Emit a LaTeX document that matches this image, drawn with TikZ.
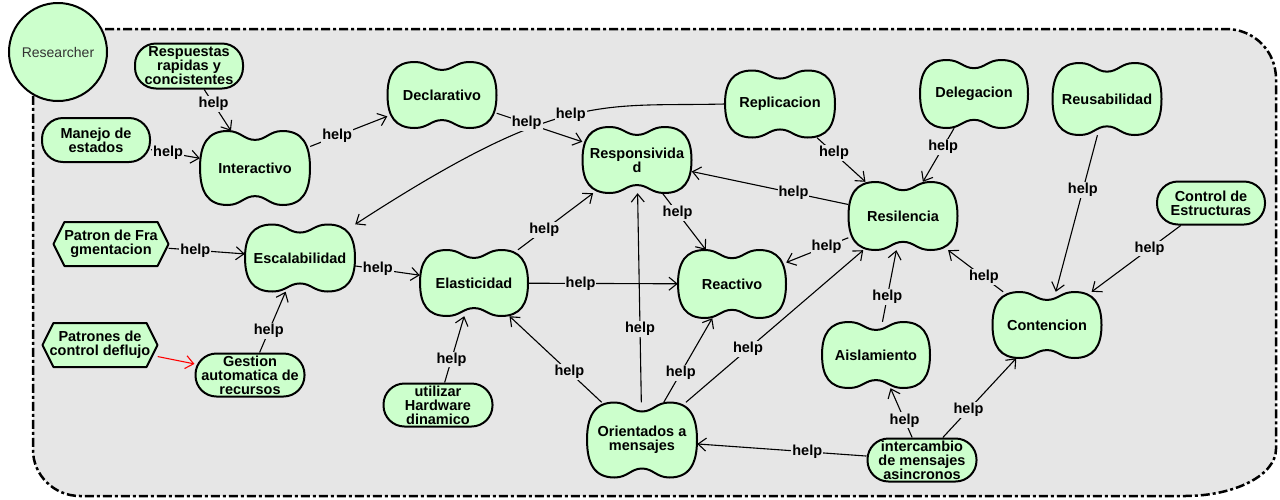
\documentclass[tikz,border=0pt]{standalone}
\usepackage{fontspec}
\setmainfont{Liberation Sans}
\usetikzlibrary{arrows.meta}
\definecolor{bgc}{HTML}{E6E6E6}
\definecolor{nodec}{HTML}{CCFFCC}
\tikzset{
  shapeline/.style={draw=black, line width=2pt, fill=nodec, line join=round},
  txt/.style={font=\bfseries\fontsize{14.5}{14}\selectfont, align=center, inner sep=0pt, text=black},
  stadium/.style={txt, shapeline, rectangle, rounded corners=21pt},
  conn/.style={line width=1.1pt, -{Straight Barb[length=8pt,width=13pt]}},
  lbl/.style={fill=bgc, inner sep=1pt, font=\bfseries\fontsize{14.5}{14}\selectfont, pos=0.35},
  container/.style={draw=black, fill=bgc, line width=2.5pt, dash pattern=on 9pt off 3pt on 3pt off 3pt},
}
\newcommand\mybean[5]{%
  \draw[shapeline, shift={(#2)}, xscale=#3, yscale=#4]
    (-0.5,0) .. controls (-0.5,-0.32) and (-0.43,-0.5) .. (-0.25,-0.5)
    .. controls (-0.13,-0.5) and (-0.1,-0.38) .. (0,-0.38)
    .. controls (0.1,-0.38) and (0.13,-0.5) .. (0.25,-0.5)
    .. controls (0.43,-0.5) and (0.5,-0.32) .. (0.5,0)
    .. controls (0.5,0.32) and (0.43,0.5) .. (0.25,0.5)
    .. controls (0.13,0.5) and (0.1,0.38) .. (0,0.38)
    .. controls (-0.1,0.38) and (-0.13,0.5) .. (-0.25,0.5)
    .. controls (-0.43,0.5) and (-0.5,0.32) .. cycle;
  \node[txt, minimum width=#3pt, minimum height=#4pt] (#1) at (#2) {#5};
}
\newcommand\myhex[5]{%
  \draw[shapeline, shift={(#2)}, xscale=#3, yscale=#4]
    (-0.5,0) -- (-0.405,-0.5) -- (0.405,-0.5) -- (0.5,0) -- (0.405,0.5) -- (-0.405,0.5) -- cycle;
  \node[txt, minimum width=#3pt, minimum height=#4pt] (#1) at (#2) {#5};
}
\begin{document}
\begin{tikzpicture}[x=1pt,y=-1pt]
\useasboundingbox (0,0) rectangle (1280,499);
% container
\path[container] (33,29) -- (1226,29) .. controls (1254,29) and (1276,51) .. (1276,79)
  -- (1276,449) .. controls (1276,475) and (1235,496) .. (1185,496)
  -- (80,496) .. controls (54,496) and (33,475) .. (33,450) -- cycle;
\node[circle, draw=black, line width=2pt, fill=nodec, minimum size=98pt, inner sep=0pt,
  font=\fontsize{14}{16}\selectfont, text=black!80] (researcher) at (58,52) {Researcher};
% beans
\mybean{inter}{255,168}{110}{74}{Interactivo}
\mybean{decl}{442,95}{109}{66}{Declarativo}
\mybean{respv}{637,160}{109}{66}{Responsivida\\d}
\mybean{repl}{780,104}{110}{67}{Replicacion}
\mybean{deleg}{974,94}{108}{68}{Delegacion}
\mybean{reus}{1107,99}{109}{72}{Reusabilidad}
\mybean{resil}{903,216}{109}{68}{Resilencia}
\mybean{escal}{300,258}{110}{67}{Escalabilidad}
\mybean{elast}{474,283}{108}{66}{Elasticidad}
\mybean{react}{732,284}{108}{68}{Reactivo}
\mybean{aisl}{876,355}{108}{66}{Aislamiento}
\mybean{cont}{1047,325}{109}{66}{Contencion}
\mybean{orient}{642,440}{110}{75}{Orientados a\\mensajes}
% stadiums
\node[stadium, minimum width=108pt, minimum height=45pt] (rq) at (189,66) {Respuestas\\rapidas y\\concistentes};
\node[stadium, minimum width=108pt, minimum height=44pt] (man) at (96,140) {Manejo de\\estados};
\node[stadium, minimum width=109pt, minimum height=43pt] (gest) at (250,375) {Gestion\\automatica de\\recursos};
\node[stadium, minimum width=109pt, minimum height=43pt] (hard) at (438,405) {utilizar\\Hardware\\dinamico};
\node[stadium, minimum width=108pt, minimum height=43pt] (ctrl) at (1211,203) {Control de\\Estructuras};
\node[stadium, minimum width=109pt, minimum height=43pt] (interc) at (922,460) {intercambio\\de mensajes\\asincronos};
% hexagons
\myhex{pfrag}{111,244}{115}{44}{Patron de Fra\\gmentacion}
\myhex{pctrl}{100,345}{115}{44}{Patrones de\\control deflujo}
% connectors
\draw[conn] (rq) -- node[lbl]{help} (inter);
\draw[conn] (man) -- node[lbl]{help} (inter);
\draw[conn] (inter) -- node[lbl]{help} (decl);
\draw[conn] (repl.west) .. controls (600,107) and (562,90) .. node[lbl,pos=0.5]{help} (escal.north east);
\draw[conn] (decl) -- node[lbl]{help} (respv);
\draw[conn] (escal) -- node[lbl]{help} (elast);
\draw[conn] (pfrag) -- node[lbl]{help} (escal);
\draw[conn, red] (pctrl) -- (gest);
\draw[conn] (gest) -- node[lbl]{help} (escal);
\draw[conn] (hard) -- node[lbl]{help} (elast);
\draw[conn] (elast) -- node[lbl]{help} (respv);
\draw[conn] (elast) -- node[lbl]{help} (react);
\draw[conn] (respv) -- node[lbl]{help} (react);
\draw[conn] (resil) -- node[lbl]{help} (respv);
\draw[conn] (repl) -- node[lbl]{help} (resil);
\draw[conn] (deleg) -- node[lbl]{help} (resil);
\draw[conn] (resil) -- node[lbl]{help} (react);
\draw[conn] (orient) -- node[lbl]{help} (elast);
\draw[conn] (orient) -- node[lbl]{help} (respv);
\draw[conn] (orient) -- node[lbl]{help} (react);
\draw[conn] (orient) -- node[lbl]{help} (resil);
\draw[conn] (interc) -- node[lbl]{help} (orient);
\draw[conn] (interc) -- node[lbl]{help} (aisl);
\draw[conn] (interc) -- node[lbl]{help} (cont);
\draw[conn] (aisl) -- node[lbl]{help} (resil);
\draw[conn] (cont) -- node[lbl]{help} (resil);
\draw[conn] (reus) -- node[lbl]{help} (cont);
\draw[conn] (ctrl) -- node[lbl]{help} (cont);
\end{tikzpicture}
\end{document}
